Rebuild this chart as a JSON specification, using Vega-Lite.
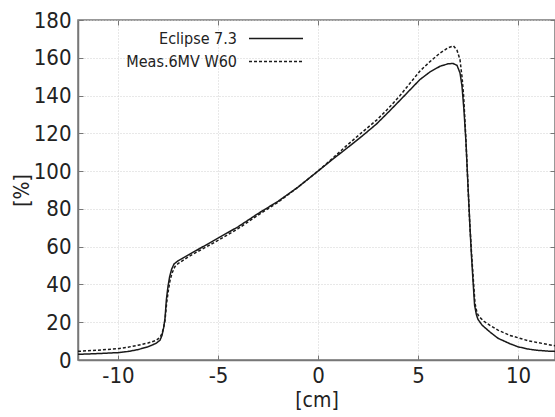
{
  "$schema": "https://vega.github.io/schema/vega-lite/v6.json",
  "autosize": "none",
  "padding": {"left": 78, "top": 20, "right": 0, "bottom": 57},
  "width": 477,
  "height": 340,
  "background": "white",
  "config": {
    "font": "DejaVu Sans Condensed, Liberation Sans Narrow, Roboto, sans-serif",
    "view": {"stroke": "#777", "strokeWidth": 1.5},
    "axis": {
      "labelFont": "DejaVu Sans Condensed, Liberation Sans Narrow, Roboto, sans-serif",
      "titleFont": "DejaVu Sans Condensed, Liberation Sans Narrow, Roboto, sans-serif",
      "labelColor": "#222",
      "titleColor": "#222",
      "titleFontWeight": "normal",
      "domainColor": "#777",
      "domainWidth": 1.5,
      "tickColor": "#777",
      "gridColor": "#d0d0d0",
      "gridDash": [1, 2],
      "gridWidth": 1
    },
    "legend": {
      "labelFont": "DejaVu Sans Condensed, Liberation Sans Narrow, Roboto, sans-serif"
    }
  },
  "data": {
    "values": [
      {"series": "Eclipse 7.3", "x": -12, "y": 3.0},
      {"series": "Eclipse 7.3", "x": -11, "y": 3.4},
      {"series": "Eclipse 7.3", "x": -10, "y": 3.9},
      {"series": "Eclipse 7.3", "x": -9.5, "y": 4.5},
      {"series": "Eclipse 7.3", "x": -9, "y": 5.5},
      {"series": "Eclipse 7.3", "x": -8.5, "y": 7},
      {"series": "Eclipse 7.3", "x": -8.1, "y": 8.8},
      {"series": "Eclipse 7.3", "x": -7.9, "y": 10.5},
      {"series": "Eclipse 7.3", "x": -7.8, "y": 13},
      {"series": "Eclipse 7.3", "x": -7.72, "y": 17},
      {"series": "Eclipse 7.3", "x": -7.65, "y": 22},
      {"series": "Eclipse 7.3", "x": -7.58, "y": 32},
      {"series": "Eclipse 7.3", "x": -7.5, "y": 39},
      {"series": "Eclipse 7.3", "x": -7.42, "y": 44},
      {"series": "Eclipse 7.3", "x": -7.32, "y": 48},
      {"series": "Eclipse 7.3", "x": -7.2, "y": 50.8},
      {"series": "Eclipse 7.3", "x": -7.0, "y": 52.5},
      {"series": "Eclipse 7.3", "x": -6.5, "y": 55.5},
      {"series": "Eclipse 7.3", "x": -6, "y": 58.5},
      {"series": "Eclipse 7.3", "x": -5, "y": 64.5},
      {"series": "Eclipse 7.3", "x": -4, "y": 70.5},
      {"series": "Eclipse 7.3", "x": -3, "y": 77.5},
      {"series": "Eclipse 7.3", "x": -2, "y": 84},
      {"series": "Eclipse 7.3", "x": -1, "y": 91.5},
      {"series": "Eclipse 7.3", "x": 0, "y": 100},
      {"series": "Eclipse 7.3", "x": 0.7, "y": 106},
      {"series": "Eclipse 7.3", "x": 1.43, "y": 112},
      {"series": "Eclipse 7.3", "x": 2.2, "y": 118.5},
      {"series": "Eclipse 7.3", "x": 2.93, "y": 125},
      {"series": "Eclipse 7.3", "x": 3.5, "y": 131},
      {"series": "Eclipse 7.3", "x": 4.1, "y": 137.5},
      {"series": "Eclipse 7.3", "x": 4.6, "y": 143},
      {"series": "Eclipse 7.3", "x": 5.1, "y": 148.5},
      {"series": "Eclipse 7.3", "x": 5.6, "y": 152.5},
      {"series": "Eclipse 7.3", "x": 6.1, "y": 155.5},
      {"series": "Eclipse 7.3", "x": 6.5, "y": 156.8},
      {"series": "Eclipse 7.3", "x": 6.75, "y": 157},
      {"series": "Eclipse 7.3", "x": 6.95, "y": 156},
      {"series": "Eclipse 7.3", "x": 7.1, "y": 152},
      {"series": "Eclipse 7.3", "x": 7.2, "y": 145},
      {"series": "Eclipse 7.3", "x": 7.3, "y": 132},
      {"series": "Eclipse 7.3", "x": 7.4, "y": 115},
      {"series": "Eclipse 7.3", "x": 7.5, "y": 92},
      {"series": "Eclipse 7.3", "x": 7.6, "y": 70},
      {"series": "Eclipse 7.3", "x": 7.67, "y": 56},
      {"series": "Eclipse 7.3", "x": 7.75, "y": 42},
      {"series": "Eclipse 7.3", "x": 7.83, "y": 29},
      {"series": "Eclipse 7.3", "x": 7.92, "y": 24},
      {"series": "Eclipse 7.3", "x": 8.0, "y": 21.5},
      {"series": "Eclipse 7.3", "x": 8.2, "y": 18.5},
      {"series": "Eclipse 7.3", "x": 8.6, "y": 14.8},
      {"series": "Eclipse 7.3", "x": 9.0, "y": 11.5},
      {"series": "Eclipse 7.3", "x": 9.6, "y": 8.6},
      {"series": "Eclipse 7.3", "x": 10, "y": 7.0},
      {"series": "Eclipse 7.3", "x": 10.5, "y": 5.8},
      {"series": "Eclipse 7.3", "x": 11, "y": 5.1},
      {"series": "Eclipse 7.3", "x": 11.5, "y": 4.7},
      {"series": "Eclipse 7.3", "x": 12, "y": 4.5},
      {"series": "Meas.6MV W60", "x": -12, "y": 4.6},
      {"series": "Meas.6MV W60", "x": -11, "y": 5.2},
      {"series": "Meas.6MV W60", "x": -10, "y": 6.0},
      {"series": "Meas.6MV W60", "x": -9.5, "y": 6.8},
      {"series": "Meas.6MV W60", "x": -9, "y": 7.8},
      {"series": "Meas.6MV W60", "x": -8.5, "y": 9},
      {"series": "Meas.6MV W60", "x": -8.1, "y": 10.3},
      {"series": "Meas.6MV W60", "x": -7.9, "y": 12},
      {"series": "Meas.6MV W60", "x": -7.8, "y": 14},
      {"series": "Meas.6MV W60", "x": -7.72, "y": 17},
      {"series": "Meas.6MV W60", "x": -7.65, "y": 21},
      {"series": "Meas.6MV W60", "x": -7.57, "y": 30},
      {"series": "Meas.6MV W60", "x": -7.48, "y": 37},
      {"series": "Meas.6MV W60", "x": -7.4, "y": 42},
      {"series": "Meas.6MV W60", "x": -7.3, "y": 46},
      {"series": "Meas.6MV W60", "x": -7.15, "y": 49.5},
      {"series": "Meas.6MV W60", "x": -7.0, "y": 51},
      {"series": "Meas.6MV W60", "x": -6.5, "y": 54.5},
      {"series": "Meas.6MV W60", "x": -6, "y": 57.5},
      {"series": "Meas.6MV W60", "x": -5, "y": 63.3},
      {"series": "Meas.6MV W60", "x": -4, "y": 69.5},
      {"series": "Meas.6MV W60", "x": -3, "y": 76.7},
      {"series": "Meas.6MV W60", "x": -2, "y": 83.5},
      {"series": "Meas.6MV W60", "x": -1, "y": 91.5},
      {"series": "Meas.6MV W60", "x": 0, "y": 100},
      {"series": "Meas.6MV W60", "x": 0.7, "y": 106.5},
      {"series": "Meas.6MV W60", "x": 1.43, "y": 113.5},
      {"series": "Meas.6MV W60", "x": 2.2, "y": 120.5},
      {"series": "Meas.6MV W60", "x": 2.93, "y": 127},
      {"series": "Meas.6MV W60", "x": 3.5, "y": 133},
      {"series": "Meas.6MV W60", "x": 4.1, "y": 140},
      {"series": "Meas.6MV W60", "x": 4.6, "y": 146.5},
      {"series": "Meas.6MV W60", "x": 5.1, "y": 153},
      {"series": "Meas.6MV W60", "x": 5.6, "y": 158},
      {"series": "Meas.6MV W60", "x": 6.1, "y": 162.5},
      {"series": "Meas.6MV W60", "x": 6.5, "y": 165.3},
      {"series": "Meas.6MV W60", "x": 6.77, "y": 166.3},
      {"series": "Meas.6MV W60", "x": 6.95, "y": 164},
      {"series": "Meas.6MV W60", "x": 7.1, "y": 159},
      {"series": "Meas.6MV W60", "x": 7.2, "y": 150},
      {"series": "Meas.6MV W60", "x": 7.28, "y": 140},
      {"series": "Meas.6MV W60", "x": 7.38, "y": 120},
      {"series": "Meas.6MV W60", "x": 7.48, "y": 97},
      {"series": "Meas.6MV W60", "x": 7.58, "y": 74},
      {"series": "Meas.6MV W60", "x": 7.68, "y": 56},
      {"series": "Meas.6MV W60", "x": 7.77, "y": 42},
      {"series": "Meas.6MV W60", "x": 7.85, "y": 30},
      {"series": "Meas.6MV W60", "x": 7.95, "y": 25},
      {"series": "Meas.6MV W60", "x": 8.05, "y": 23},
      {"series": "Meas.6MV W60", "x": 8.3, "y": 20.5},
      {"series": "Meas.6MV W60", "x": 8.6, "y": 18.3},
      {"series": "Meas.6MV W60", "x": 9.0, "y": 15.8},
      {"series": "Meas.6MV W60", "x": 9.6, "y": 13},
      {"series": "Meas.6MV W60", "x": 10, "y": 11.8},
      {"series": "Meas.6MV W60", "x": 10.5, "y": 10.2},
      {"series": "Meas.6MV W60", "x": 11, "y": 9.2},
      {"series": "Meas.6MV W60", "x": 11.75, "y": 7.7},
      {"series": "Meas.6MV W60", "x": 12, "y": 7.4}
    ]
  },
  "layer": [
    {
      "mark": {"type": "line", "clip": true, "color": "#1a1a1a", "strokeWidth": 1.5},
      "encoding": {
        "x": {
          "field": "x", "type": "quantitative",
          "scale": {"domain": [-12, 11.85], "nice": false, "zero": false},
          "axis": {
            "title": "[cm]", "titleFontSize": 21, "titlePadding": 3,
            "values": [-10, -5, 0, 5, 10], "labelFontSize": 22,
            "labelExpr": "'' + datum.value",
            "tickSize": -5, "labelPadding": 10, "grid": true,
            "labelFlush": false, "labelOverlap": false
          }
        },
        "y": {
          "field": "y", "type": "quantitative",
          "scale": {"domain": [0, 180], "nice": false},
          "axis": {
            "title": "[%]", "titleFontSize": 21, "titlePadding": 1,
            "values": [0, 20, 40, 60, 80, 100, 120, 140, 160, 180],
            "labelFontSize": 22, "tickSize": -5, "labelPadding": 12,
            "grid": true, "labelFlush": false, "labelOverlap": false
          }
        },
        "strokeDash": {
          "field": "series", "type": "nominal",
          "scale": {"domain": ["Eclipse 7.3", "Meas.6MV W60"], "range": [[1, 0], [3, 2]]},
          "legend": {
            "title": null,
            "orient": "none",
            "legendX": 183.5,
            "legendY": 4,
            "symbolType": "M-2,0H2",
            "symbolSize": 729,
            "symbolStrokeColor": "#1a1a1a",
            "symbolStrokeWidth": 1.3,
            "labelFontSize": 16,
            "labelColor": "#222",
            "labelAlign": "right",
            "labelOffset": -53.5,
            "rowPadding": -3
          }
        }
      }
    },
    {
      "mark": {"type": "line", "opacity": 0},
      "encoding": {
        "x": {
          "field": "x", "type": "quantitative",
          "axis": {"orient": "top", "title": null, "labels": false, "domain": false, "grid": false, "tickSize": -5, "values": [-10, -5, 0, 5, 10]}
        },
        "y": {
          "field": "y", "type": "quantitative",
          "axis": {"orient": "right", "title": null, "labels": false, "domain": false, "grid": false, "tickSize": -5, "values": [0, 20, 40, 60, 80, 100, 120, 140, 160, 180]}
        },
        "detail": {"field": "series", "type": "nominal"}
      }
    }
  ],
  "resolve": {"axis": {"x": "independent", "y": "independent"}}
}
